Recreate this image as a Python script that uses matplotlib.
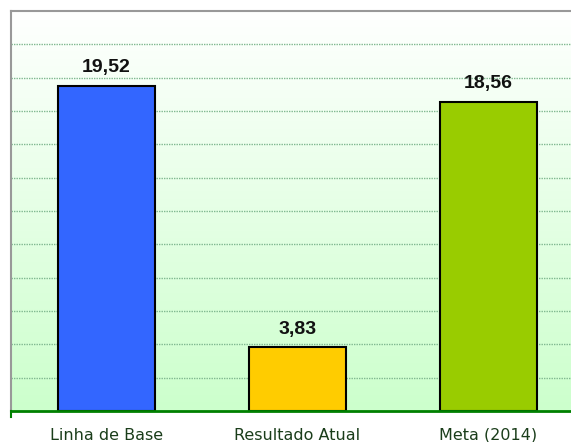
import matplotlib
matplotlib.use("Agg")
import matplotlib.pyplot as plt
import numpy as np
from matplotlib.colors import LinearSegmentedColormap

categories = ["Linha de Base", "Resultado Atual", "Meta (2014)"]
values = [19.52, 3.83, 18.56]
labels = ["19,52", "3,83", "18,56"]
colors = ["#3366ff", "#ffcc00", "#99cc00"]

W, H = 571, 442
fig = plt.figure(figsize=(W / 100, H / 100), dpi=100)
left, top, bottom = 11, 11, 411
right = 11 + 3 * 191
ax = fig.add_axes([left / W, 1 - bottom / H, (right - left) / W, (bottom - top) / H])

ax.set_xlim(-0.5, 2.5)
ax.set_ylim(0, 24)

# gradient background
cmap = LinearSegmentedColormap.from_list("bg", ["#ccffcc", "#ffffff"])
grad = np.linspace(0, 1, 256).reshape(-1, 1)
ax.imshow(grad, extent=(-0.5, 2.5, 0, 24), origin="lower", aspect="auto",
          cmap=cmap, zorder=0)

for yv in np.arange(2, 24, 2):
    ax.axhline(yv, color="#80b890", lw=1.0, ls=(0, (1, 0.8)), zorder=1)

x = np.arange(len(categories))
ax.bar(x, values, width=0.51, color=colors, edgecolor="black", linewidth=1.5, zorder=2)

for xi, v, lab in zip(x, values, labels):
    ax.annotate(lab, (xi, v), xytext=(0, 9.5), textcoords="offset points",
                ha="center", va="baseline", fontsize=14, fontweight="bold",
                family="Liberation Sans", color="#111111")

ax.set_xticks(x)
ax.set_xticklabels(categories, fontsize=11.5, color="#1a3d1a", family="DejaVu Sans")
ax.tick_params(axis="x", length=0, pad=12)
ax.set_yticks([])

for s in ["top", "left"]:
    ax.spines[s].set_color("#999999")
    ax.spines[s].set_linewidth(1.5)
ax.spines["right"].set_visible(False)
ax.spines["bottom"].set_color("#008000")
ax.spines["bottom"].set_linewidth(2)

# small tick at left end of category axis
ax.plot([-0.5, -0.5], [0, -0.35], color="#008000", lw=1.5, clip_on=False, zorder=3)

fig.savefig("out.png", dpi=100)
